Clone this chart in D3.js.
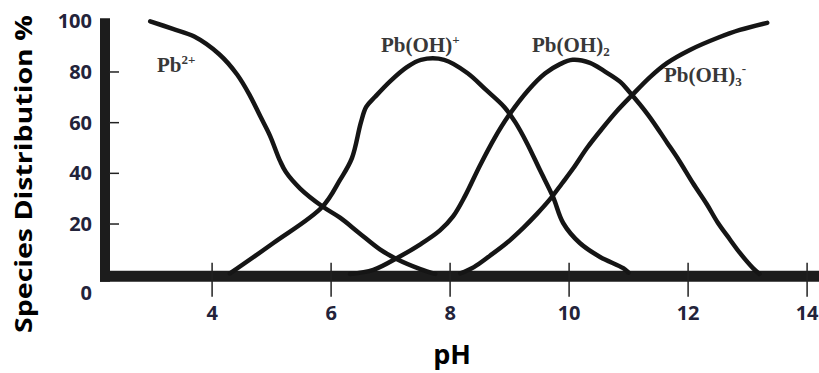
<!DOCTYPE html>
<meta charset="utf-8">
<style>
body { margin: 0; background: #fff; }
svg { display: block; }
.tick-label { font-family: "Open Sans", sans-serif; font-weight: bold; font-size: 20px; fill: #23233a; }
.species { font-family: "Liberation Serif", serif; font-weight: bold; font-size: 21px; fill: #383838; }
.curve { fill: none; stroke: #151515; stroke-width: 4.5px; stroke-linejoin: round; stroke-linecap: round; }
</style>
<body>
<svg width="819" height="373"></svg>
<script src="https://d3js.org/d3.v7.min.js"></script>
<script>

// pH ticks and percentage ticks
var phTicks = [4, 6, 8, 10, 12, 14];
var pctTicks = [0, 20, 40, 60, 80, 100];

// species curves, [pH, %]
var pb2 = [[2.96,100],[3.34,97],[3.7,94],[4.12,87],[4.42,79],[4.64,70.5],[4.81,62.5],[4.97,55],
  [5.14,45],[5.24,40.5],[5.48,34],[5.85,27],[6.15,22.5],[6.47,16.5],[6.82,10],[7.1,6.2],
  [7.5,2.2],[7.75,0.3]];
var pbOH = [[4.3,0.5],[5.03,12.5],[5.85,26.7],[6.15,37.4],[6.35,46],[6.5,60],[6.59,66.2],
  [6.74,70.2],[7.0,76.5],[7.28,82],[7.51,84.8],[7.9,84.8],[8.29,79.6],[8.6,73],[8.91,66.2],
  [9.1,60],[9.29,52],[9.51,41.3],[9.73,30.7],[9.9,20.4],[10.18,12.5],[10.52,7],[10.91,2.6],
  [11.0,0.8]];
var pbOH2 = [[6.32,0.3],[6.71,1.9],[7.14,7],[7.5,12],[7.83,17.5],[8.05,23],[8.25,31],[8.5,43],
  [8.75,54],[8.97,62.3],[9.32,73],[9.6,79.5],[9.84,83],[10.06,84.8],[10.35,83.6],[10.58,80.5],
  [10.86,76.1],[11.0,72.5],[11.33,63],[11.65,52],[11.85,45],[12.08,36.2],[12.31,28],
  [12.5,20.5],[12.7,14],[12.87,8.6],[13.09,2.6],[13.2,0.3]];
var pbOH3 = [[8.17,0.5],[8.4,3],[8.67,7.5],[8.95,12.5],[9.23,18.5],[9.46,24],[9.68,29.8],
  [9.88,36],[10.07,42],[10.3,50],[10.55,57.5],[10.8,64.5],[11.06,70.9],[11.36,78],[11.65,83.6],
  [12.03,88.7],[12.49,93.4],[12.87,96.6],[13.33,99.4]];

var svg = d3.select("svg");

var x = d3.scaleLinear().domain([2.2, 14.2]).range([105, 819]);
var y = d3.scaleLinear().domain([0, 100]).range([274.7, 21.3]);

// axes drawn as heavy bars like the original
svg.append("line")
    .attr("x1", x(2.2)).attr("x2", x(2.2))
    .attr("y1", y(100) - 3).attr("y2", y(0) + 7)
    .attr("stroke", "#1c1c1c").attr("stroke-width", 10);

svg.append("line")
    .attr("x1", x(2.2) - 5).attr("x2", 819)
    .attr("y1", y(0) + 1.5).attr("y2", y(0) + 1.5)
    .attr("stroke", "#1c1c1c").attr("stroke-width", 11);

svg.selectAll(".xtick")
  .data(phTicks)
  .enter().append("line")
    .attr("x1", function(d) { return x(d); }).attr("x2", function(d) { return x(d); })
    .attr("y1", y(0) - 12).attr("y2", y(0) + 22)
    .attr("stroke", "#222").attr("stroke-width", 1.5);

svg.selectAll(".ytick")
  .data(pctTicks.filter(function(d) { return d > 0 && d < 100; }))
  .enter().append("line")
    .attr("x1", x(2.2) + 4).attr("x2", x(2.2) + 14)
    .attr("y1", function(d) { return y(d); }).attr("y2", function(d) { return y(d); })
    .attr("stroke", "#222").attr("stroke-width", 1.5);

svg.selectAll(".xlabel")
  .data(phTicks)
  .enter().append("text")
    .attr("class", "tick-label")
    .attr("x", function(d) { return x(d); })
    .attr("y", y(0) + 45)
    .attr("text-anchor", "middle")
    .text(function(d) { return d; });

svg.selectAll(".ylabel")
  .data(pctTicks)
  .enter().append("text")
    .attr("class", "tick-label")
    .attr("x", 92)
    .attr("y", function(d) { return d === 0 ? y(d) + 18 : y(d); })
    .attr("dy", "0.35em")
    .attr("text-anchor", "end")
    .text(function(d) { return d; });

svg.append("text")
    .attr("transform", "translate(32,174) rotate(-90)")
    .attr("text-anchor", "middle")
    .attr("textLength", 318)
    .attr("lengthAdjust", "spacingAndGlyphs")
    .style("font-family", "Open Sans")
    .style("font-weight", "bold")
    .style("font-size", "24px")
    .style("fill", "#000")
    .text("Species Distribution %");

svg.append("text")
    .attr("x", 452).attr("y", 364)
    .attr("text-anchor", "middle")
    .style("font-family", "Open Sans")
    .style("font-weight", "bold")
    .style("font-size", "27px")
    .style("fill", "#000")
    .text("pH");

var line = d3.line()
    .x(function(d) { return x(d[0]); })
    .y(function(d) { return y(d[1]); })
    .curve(d3.curveCatmullRom.alpha(0.5));

[pb2, pbOH, pbOH2, pbOH3].forEach(function(s) {
  svg.append("path").datum(s).attr("class", "curve").attr("d", line);
});

// species labels
function label(px, py, base, sub, sup) {
  var t = svg.append("text").attr("class", "species").attr("x", px).attr("y", py);
  t.append("tspan").text(base);
  if (sub) t.append("tspan").attr("dy", 4).style("font-size", "13px").text(sub);
  if (sup) t.append("tspan").attr("dy", sub ? -13 : -8).style("font-size", "13px").text(sup);
}

label(157, 72, "Pb", null, "2+");
label(381, 52, "Pb(OH)", null, "+");
label(532, 52, "Pb(OH)", "2", null);
label(664, 82, "Pb(OH)", "3", "-");

</script>
</body>
